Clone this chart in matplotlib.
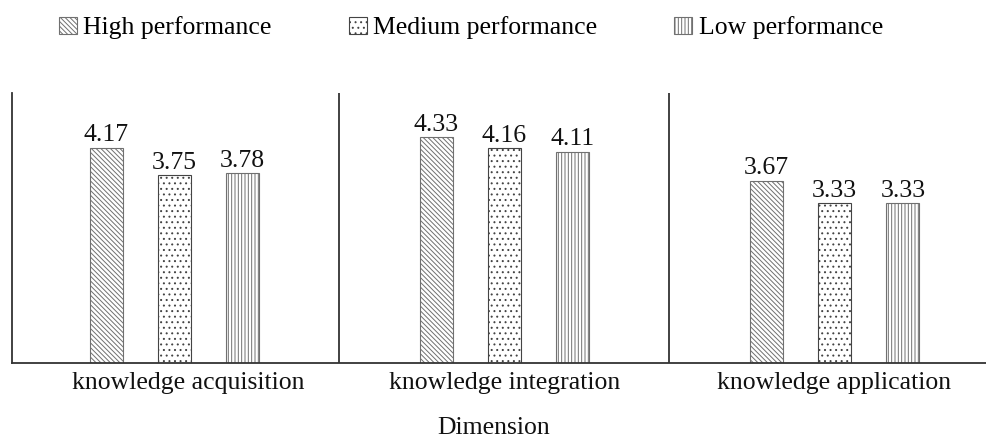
import matplotlib
matplotlib.use("Agg")
import matplotlib.pyplot as plt
import matplotlib.transforms as mtransforms
import numpy as np

categories = ["knowledge acquisition", "knowledge integration", "knowledge application"]
series_names = ["High performance", "Medium performance", "Low performance"]
high = [4.17, 4.33, 3.67]
medium = [3.75, 4.16, 3.33]
low = [3.78, 4.11, 3.33]
value_labels = [["4.17", "4.33", "3.67"], ["3.75", "4.16", "3.33"], ["3.78", "4.11", "3.33"]]
x_label = "Dimension"

plt.rcParams['font.family'] = ['Liberation Serif', 'DejaVu Serif']
plt.rcParams['hatch.linewidth'] = 0.7
FS = 18.5

fig = plt.figure(figsize=(9.87, 4.38), dpi=100)
ax = fig.add_axes([12/987, 1 - 362.7/438, 1 - 12/987, (362.7 - 93.3)/438])

x = np.arange(len(categories))
width = 0.1
offset = 0.207
hatches = ['\\\\\\\\\\\\\\', '...', '|||||']
edges = ['#707070', '#444444', '#707070']
data = [high, medium, low]
for i, (vals, name, h) in enumerate(zip(data, series_names, hatches)):
    bars = ax.bar(x + (i - 1) * offset, vals, width, label=name, color='white',
                  edgecolor=edges[i], hatch=h, linewidth=0.8)
    ax.bar_label(bars, labels=value_labels[i], padding=1, fontsize=FS, color='#111111')

ax.set_ylim(0.9, 5.0)
ax.set_xlim(-0.492, 2.462)
for sx in [0.5, 1.5]:
    ax.axvline(sx, color='#333333', linewidth=1.3)

for s in ['top', 'right']:
    ax.spines[s].set_visible(False)
for s in ['left', 'bottom']:
    ax.spines[s].set_color('#333333')
    ax.spines[s].set_linewidth(1.3)
ax.set_yticks([])
ax.set_xticks(x)
ax.set_xticklabels(categories, fontsize=FS, color='#111111')
ax.tick_params(axis='x', length=0, pad=7)
# shift first label slightly as in reference
lbl = ax.get_xticklabels()[0]
lbl.set_transform(lbl.get_transform() + mtransforms.ScaledTranslation(14/100, 0, fig.dpi_scale_trans))

fig.text(494/987, 1 - 428/438, x_label, ha='center', va='center', fontsize=FS, color='#111111')

handles, labels = ax.get_legend_handles_labels()
fig.legend(handles, labels, loc='center', bbox_to_anchor=(471/987, 1 - 28/438), ncol=3,
           frameon=False, fontsize=FS, handlelength=0.7, handleheight=0.7,
           handletextpad=0.25, columnspacing=3.0, borderpad=0, borderaxespad=0)

fig.savefig("out.png", dpi=100)
